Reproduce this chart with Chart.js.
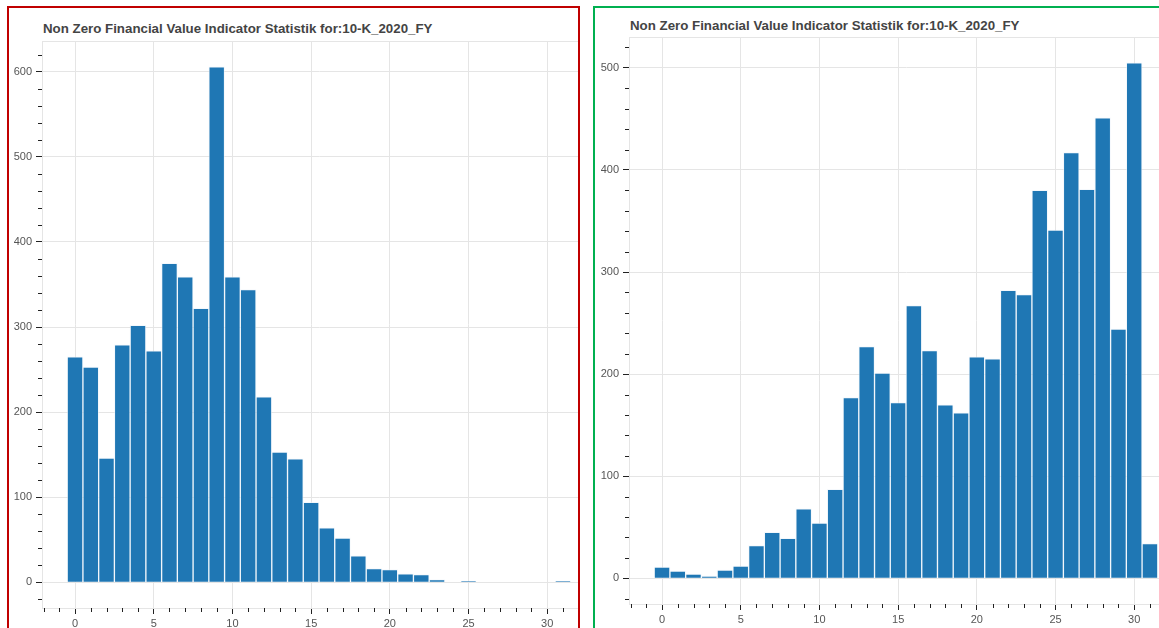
<!DOCTYPE html>
<html><head><meta charset="utf-8">
<script src="https://cdn.jsdelivr.net/npm/chart.js@4.4.1/dist/chart.umd.min.js"></script>
<style>
html,body{margin:0;padding:0;width:1159px;height:628px;overflow:hidden;background:#fff;font-family:"Liberation Sans",Arial,sans-serif;}
.panel{position:absolute;box-sizing:border-box;overflow:hidden;background:#fff;}
#p1{left:7px;top:6px;width:573px;height:660px;border:2px solid #c00000;}
#p2{left:593px;top:6px;width:620px;height:660px;border:2px solid #00b050;}
.title{position:absolute;font:bold 13.3px "Liberation Sans",Arial,sans-serif;color:#444;white-space:nowrap;line-height:15px;}
canvas{position:absolute;}
</style></head>
<body>
<div id="p1" class="panel">
  <div class="title" style="left:34px;top:13px;">Non Zero Financial Value Indicator Statistik for:10-K_2020_FY</div>
  <canvas id="c1" width="600" height="640" style="left:-9px;top:-8px;width:600px;height:640px;"></canvas>
</div>
<div id="p2" class="panel">
  <div class="title" style="left:35px;top:10px;">Non Zero Financial Value Indicator Statistik for:10-K_2020_FY</div>
  <canvas id="c2" width="600" height="640" style="left:-8px;top:-8px;width:600px;height:640px;"></canvas>
</div>
<script>
// ---- data ----
const bins = [0,1,2,3,4,5,6,7,8,9,10,11,12,13,14,15,16,17,18,19,20,21,22,23,24,25,26,27,28,29,30,31];
const leftCounts = [265,253,146,279,302,272,375,359,322,606,359,344,218,153,145,94,64,52,31,16,15,10,9,3,0,1,0,0,0,0,0,1];
const rightCounts = [11,7,4,2,8,12,32,45,39,68,54,87,177,227,201,172,267,223,170,162,217,215,282,278,380,341,417,381,451,244,505,34];
const xTickStep = 5;
const leftYTickStep = 100;
const rightYTickStep = 100;
const leftYRange = [-30.3, 636.3];
const rightYRange = [-25.25, 530.25];
const xRange = [-2.1, 33.1];

const AXIS = '#222';
const GRID = '#e5e5e5';
const LABEL = '#555';

const frameAndMinor = {
  id: 'frameAndMinor',
  beforeDatasetsDraw(chart) {
    const {ctx, chartArea: a} = chart;
    ctx.save();
    ctx.strokeStyle = GRID; ctx.lineWidth = 1;
    ctx.strokeRect(a.left + 0.5, a.top + 0.5, a.right - a.left, a.bottom - a.top);
    ctx.restore();
  },
  afterDraw(chart) {
    const {ctx, chartArea: a, scales} = chart;
    const xs = scales.x, ys = scales.y;
    ctx.save();
    ctx.strokeStyle = AXIS; ctx.lineWidth = 1;
    ctx.beginPath();
    for (let v = Math.ceil(xs.min); v <= xs.max; v++) {
      if (v % xTickStep === 0) continue;
      const px = Math.round(xs.getPixelForValue(v)) + 0.5;
      ctx.moveTo(px, a.bottom); ctx.lineTo(px, a.bottom + 4);
    }
    const minorY = chart.options.minorY;
    for (let v = Math.ceil(ys.min / minorY) * minorY; v <= ys.max; v += minorY) {
      if (Math.abs(v % 100) < 1e-6) continue;
      const py = Math.round(ys.getPixelForValue(v)) + 0.5;
      ctx.moveTo(a.left, py); ctx.lineTo(a.left - 4, py);
    }
    ctx.stroke();
    ctx.restore();
  }
};

function makeChart(id, counts, yRange, yStep, pad, yWidth, xHeight) {
  return new Chart(document.getElementById(id), {
    type: 'bar',
    data: {
      datasets: [{
        data: bins.map((b, i) => ({x: b, y: counts[i]})),
        backgroundColor: '#1f77b4',
        borderColor: 'rgba(235,242,250,0.55)',
        borderWidth: 1,
        borderSkipped: 'bottom',
        barPercentage: 1,
        categoryPercentage: 1,
        grouped: false
      }]
    },
    options: {
      responsive: false,
      devicePixelRatio: 1,
      animation: false,
      minorY: 20,
      layout: {padding: pad},
      plugins: {legend: {display: false}, tooltip: {enabled: false}, title: {display: false}},
      scales: {
        x: {
          type: 'linear', min: xRange[0], max: xRange[1], offset: false,
          ticks: {stepSize: xTickStep, includeBounds: false, color: LABEL, padding: 3, maxRotation: 0,
                  font: {family: '"Liberation Sans", Arial, sans-serif', size: 11}},
          grid: {color: GRID, tickColor: AXIS, tickLength: 6, offset: false},
          border: {color: AXIS, width: 1},
          afterFit(s) { s.height = xHeight; }
        },
        y: {
          type: 'linear', min: yRange[0], max: yRange[1],
          ticks: {stepSize: yStep, includeBounds: false, color: LABEL, padding: 4,
                  font: {family: '"Liberation Sans", Arial, sans-serif', size: 11}},
          grid: {color: GRID, tickColor: AXIS, tickLength: 6},
          border: {color: AXIS, width: 1},
          afterFit(s) { s.width = yWidth; }
        }
      }
    },
    plugins: [frameAndMinor]
  });
}

makeChart('c1', leftCounts, leftYRange, leftYTickStep, {left: 0, right: 4, top: 41, bottom: 0}, 42, 32);
makeChart('c2', rightCounts, rightYRange, rightYTickStep, {left: 0, right: 4, top: 37, bottom: 0}, 42, 36);
</script>
</body></html>
